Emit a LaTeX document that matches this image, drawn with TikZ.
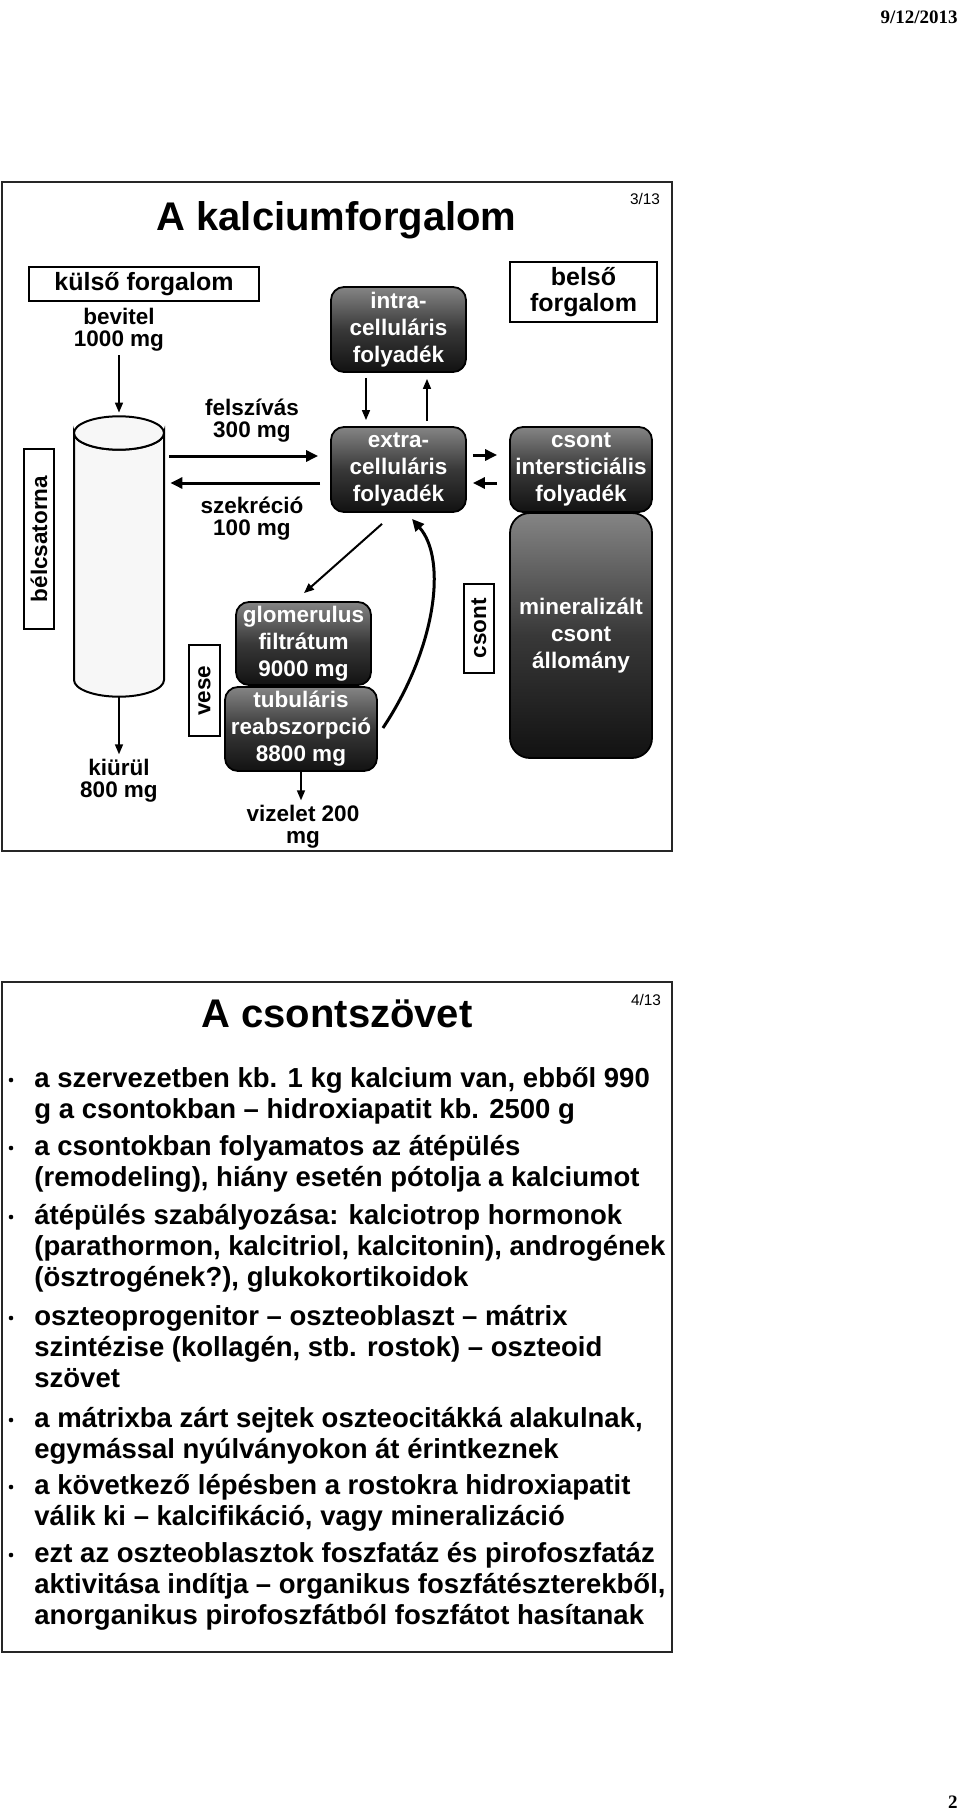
\documentclass[tikz,border=0pt]{standalone}
\usepackage{fontspec}
\setmainfont{Liberation Sans}
\newfontfamily\serifb{Liberation Serif}
\usetikzlibrary{arrows.meta,calc}
\tikzset{
  frame/.style={draw=black!85, line width=1.25pt},
  ttl/.style={font=\bfseries\fontsize{20}{24}\selectfont, inner sep=0pt},
  pagenum/.style={font=\fontsize{7.7}{9}\selectfont, inner sep=0pt},
  datestyle/.style={font=\serifb\bfseries\fontsize{9.5}{11}\selectfont, inner sep=0pt},
  plainbox/.style={draw=black, line width=0.7pt, inner sep=0pt, align=center,
    font=\bfseries\fontsize{12.5}{13}\selectfont},
  lbl/.style={font=\bfseries\fontsize{11.25}{11}\selectfont, align=center, inner sep=0pt},
  darkbox/.style={draw=black, line width=0.9pt, rounded corners=6.5pt,
    top color=black!48, bottom color=black!93, middle color=black!78,
    text=white, font=\bfseries\fontsize{11.25}{13.5}\selectfont, align=center, inner sep=0pt},
  vlabel/.style={draw=black, line width=0.7pt, rotate=90, inner sep=0pt,
    font=\bfseries\fontsize{11.25}{13}\selectfont},
  thinarrow/.style={draw=black, line width=0.8pt, -{Triangle[length=5pt,width=4pt]}},
  thickarrow/.style={draw=black, line width=1.5pt, -{Triangle[length=6pt,width=5.5pt]}},
  bullettext/.style={font=\bfseries\fontsize{13.75}{15.5}\selectfont, align=left,
    inner sep=0pt, anchor=base west},
  bulletdot/.style={circle, fill=black, inner sep=0pt, minimum size=2.3pt},
  cylstyle/.style={draw=black, line width=1pt, fill=black!3},
}
\begin{document}
\begin{tikzpicture}[x=0.5pt,y=-0.5pt]
\useasboundingbox (0,0) rectangle (960,1819);
\fill[white] (0,0) rectangle (960,1819);

% date and page number
\node[datestyle, anchor=base east] (date) at (958,24) {9/12/2013};
\node[datestyle, anchor=base east] (pgno) at (958,1808) {2};

% ================= top slide =================
\draw[frame] (2,182) rectangle (672,851);
\node[ttl, anchor=base] (t1) at (336.5,231) {A kalciumforgalom};
\node[pagenum] (p1) at (645,199) {3/13};

\node[plainbox, minimum width=115pt, minimum height=17pt] (kulso) at (144,284) {külső forgalom};
\node[plainbox, minimum width=73.5pt, minimum height=30pt] (belso) at (583.5,292) {belső\\forgalom};

% (base anchor of a multi-line node = baseline of its last line)
\node[lbl, anchor=base] (bev) at (119,346) {bevitel\\1000 mg};

% cylinder
\filldraw[cylstyle] (74,433) -- (74,680)
  arc[start angle=180, end angle=0, x radius=45, y radius=16.7]
  -- (164,433)
  arc[start angle=0, end angle=180, x radius=45, y radius=16.7] -- cycle;
\draw[cylstyle] (119,433) ellipse [x radius=45, y radius=16.7];
\node[inner sep=0pt, minimum width=45pt, minimum height=140pt] (cyl) at (119,557) {};

\node[lbl, anchor=base] (kiurul) at (119,797) {kiürül\\800 mg};
\node[vlabel, minimum width=90pt, minimum height=15pt] (belcs) at (39,539) {bélcsatorna};

\node[lbl, anchor=base] (felsz) at (252,437) {felszívás\\300 mg};
\node[lbl, anchor=base] (szekr) at (252,535) {szekréció\\100 mg};

\node[darkbox, minimum width=67.5pt, minimum height=42.5pt] (intra) at (398.5,329.5) {intra-\\celluláris\\folyadék};
\node[darkbox, minimum width=67.5pt, minimum height=42.5pt] (extra) at (398.5,469.5) {extra-\\celluláris\\folyadék};
\node[darkbox, minimum width=71pt, minimum height=42.5pt] (interst) at (581,469.5) {csont\\intersticiális\\folyadék};
\node[darkbox, rounded corners=10pt, minimum width=71pt, minimum height=122.5pt] (miner) at (581,635.5) {mineralizált\\csont\\állomány};
\node[darkbox, minimum width=67.5pt, minimum height=41.5pt] (glom) at (303.5,643.5) {glomerulus\\filtrátum\\9000 mg};
\node[darkbox, minimum width=76pt, minimum height=42pt] (tub) at (301,729) {tubuláris\\reabszorpció\\8800 mg};

\node[vlabel, minimum width=45.5pt, minimum height=15.5pt] (vese) at (204.5,690.5) {vese};
\node[vlabel, minimum width=44.5pt, minimum height=15pt] (csont) at (479,628.5) {csont};

\node[lbl, anchor=base] (viz) at (303,843) {vizelet 200\\mg};

% connectors
\draw[thinarrow] ($(bev.south)+(0,4)$) -- ($(cyl.north)+(0,-4)$);
\draw[thinarrow] (cyl.south) -- ($(cyl.south |- kiurul.north)+(0,-4)$);
\draw[thickarrow] ($(cyl.east |- 0,456)+(5,0)$) -- ($(extra.west |- 0,456)+(-12,0)$);
\draw[thickarrow] ($(extra.west |- 0,483)+(-10,0)$) -- ($(cyl.east |- 0,483)+(6,0)$);
\draw[thinarrow] ($(intra.south)+(-32.5,5)$) -- ($(extra.north)+(-32.5,-6)$);
\draw[thinarrow] ($(extra.north)+(28.5,-5)$) -- ($(intra.south)+(28.5,6)$);
\draw[thickarrow] ($(extra.east |- 0,455)+(6,0)$) -- ($(interst.west |- 0,455)+(-12,0)$);
\draw[thickarrow] ($(interst.west |- 0,483)+(-12,0)$) -- ($(extra.east |- 0,483)+(6,0)$);
\draw[thinarrow, line width=1pt] ($(extra.south)+(-16.5,11)$) -- ($(glom.north)+(0.5,-8)$);
\draw[thickarrow] ($(tub.east)+(5,-1)$) .. controls (435,650) and (448,560) .. ($(extra.south)+(13.5,6)$);
\draw[thinarrow] (tub.south) -- ($(tub.south |- viz.north)+(0,-4)$);

% ================= bottom slide =================
\draw[frame] (2,982) rectangle (672,1652);
\node[ttl, anchor=base] (t2) at (337,1027) {A csontszövet};
\node[pagenum] (p2) at (646,1000) {4/13};

\node[bulletdot] (d1) at (11,1080) {};
\node[bullettext] (l1) at (34,1118) {a szervezetben kb. 1 kg kalcium van, ebből 990\\g a csontokban – hidroxiapatit kb. 2500 g};
\node[bulletdot] (d2) at (11,1148) {};
\node[bullettext] (l2) at (34,1186) {a csontokban folyamatos az átépülés\\(remodeling), hiány esetén pótolja a kalciumot};
\node[bulletdot] (d3) at (11,1217) {};
\node[bullettext] (l3) at (34,1286) {átépülés szabályozása: kalciotrop hormonok\\(parathormon, kalcitriol, kalcitonin), androgének\\(ösztrogének?), glukokortikoidok};
\node[bulletdot] (d4) at (11,1318) {};
\node[bullettext] (l4) at (34,1387) {oszteoprogenitor – oszteoblaszt – mátrix\\szintézise (kollagén, stb. rostok) – oszteoid\\szövet};
\node[bulletdot] (d5) at (11,1420) {};
\node[bullettext] (l5) at (34,1458) {a mátrixba zárt sejtek oszteocitákká alakulnak,\\egymással nyúlványokon át érintkeznek};
\node[bulletdot] (d6) at (11,1487) {};
\node[bullettext] (l6) at (34,1525) {a következő lépésben a rostokra hidroxiapatit\\válik ki – kalcifikáció, vagy mineralizáció};
\node[bulletdot] (d7) at (11,1555) {};
\node[bullettext] (l7) at (34,1624) {ezt az oszteoblasztok foszfatáz és pirofoszfatáz\\aktivitása indítja – organikus foszfátészterekből,\\anorganikus pirofoszfátból foszfátot hasítanak};
\end{tikzpicture}
\end{document}
